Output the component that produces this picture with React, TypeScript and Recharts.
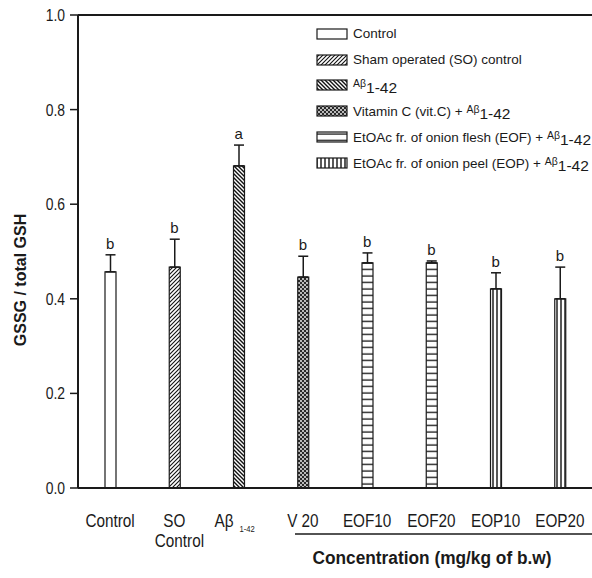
import {
  ComposedChart,
  Bar,
  Cell,
  Line,
  XAxis,
  YAxis,
  ErrorBar,
  LabelList,
  Legend,
  ReferenceLine,
} from 'recharts';

const categories = ['Control', 'SO\nControl', 'Aβ', 'V 20', 'EOF10', 'EOF20', 'EOP10', 'EOP20'];
const means = [0.457, 0.467, 0.681, 0.446, 0.476, 0.476, 0.421, 0.4];
const sems = [0.036, 0.059, 0.044, 0.044, 0.021, 0.004, 0.034, 0.067];
const letters = ['b', 'b', 'a', 'b', 'b', 'b', 'b', 'b'];
const groups = ['ctrl', 'so', 'ab', 'vc', 'eof', 'eof', 'eop', 'eop'];
const yTicks = [0, 0.2, 0.4, 0.6, 0.8, 1.0];

const legendItems = [
  { key: 'ctrl', text: 'Control', ab: false },
  { key: 'so', text: 'Sham operated (SO) control', ab: false },
  { key: 'ab', text: '', ab: true },
  { key: 'vc', text: 'Vitamin C (vit.C) + ', ab: true },
  { key: 'eof', text: 'EtOAc fr. of onion flesh (EOF) + ', ab: true },
  { key: 'eop', text: 'EtOAc fr. of onion peel (EOP) + ', ab: true },
];

const fillOf: Record<string, string> = {
  ctrl: '#ffffff',
  so: 'url(#pSO)',
  ab: 'url(#pAB)',
  vc: 'url(#pVC)',
  eof: 'url(#pEOF)',
  eop: 'url(#pEOP)',
};

const data = categories.map((name, i) => ({
  name,
  mean: means[i],
  err: [0, sems[i]],
  top: means[i] + sems[i],
  sig: letters[i],
  group: groups[i],
}));

const FONT = "'Liberation Sans', Arial, sans-serif";
const INK = '#1a1a1a';

// narrow look: squeeze text horizontally around its anchor
const narrow = (x: number, k = 0.85) => `translate(${x},0) scale(${k},1) translate(${-x},0)`;

function XTick({ x, y, payload }: any) {
  const v: string = payload.value;
  if (v === 'Aβ') {
    return (
      <text x={x - 4} y={y + 31} textAnchor="middle" fontFamily={FONT} fontSize={18} fill={INK} transform={narrow(x - 4)}>
        Aβ
        <tspan fontSize={9} dx={7} dy={5}>1-42</tspan>
      </text>
    );
  }
  const lines = v.split('\n');
  return (
    <text x={x} y={y + 31} textAnchor="middle" fontFamily={FONT} fontSize={18} fill={INK} transform={narrow(x)}>
      {lines.map((l, i) => (
        <tspan key={i} x={x + (i > 0 ? 6 : 0)} dy={i === 0 ? 0 : 20}>
          {l}
        </tspan>
      ))}
    </text>
  );
}

function YTick({ x, y, payload }: any) {
  return (
    <text x={x} y={y + 6} textAnchor="end" fontFamily={FONT} fontSize={17} fill={INK} transform={narrow(x, 0.82)}>
      {Number(payload.value).toFixed(1)}
    </text>
  );
}

function Swatch({ k }: { k: string }) {
  return (
    <svg width={32} height={12} style={{ display: 'block' }}>
      <rect x={1} y={1} width={30} height={10} fill={fillOf[k]} stroke={INK} strokeWidth={1.2} />
    </svg>
  );
}

function LegendBox() {
  return (
    <div style={{ fontFamily: FONT, fontSize: 13.5, color: INK }}>
      {legendItems.map((it) => (
        <div key={it.key} style={{ display: 'flex', alignItems: 'center', height: 25.8, whiteSpace: 'nowrap' }}>
          <Swatch k={it.key} />
          <span style={{ marginLeft: 5 }}>
            {it.text}
            {it.ab && (
              <>
                <span style={{ fontSize: 10.5, position: 'relative', top: -3 }}>Aβ</span>
                <span style={{ fontSize: 15.5, position: 'relative', top: 3 }}>1-42</span>
              </>
            )}
          </span>
        </div>
      ))}
    </div>
  );
}

export default function App() {
  return (
    <div style={{ position: 'absolute', left: 0, top: 0, width: 592, height: 578, background: '#fff' }}>
      <ComposedChart
        width={592}
        height={578}
        data={data}
        margin={{ top: 15, right: 0, bottom: 0, left: 0 }}
      >
        <defs>
          <pattern id="pSO" patternUnits="userSpaceOnUse" width={4} height={4}>
            <rect width={4} height={4} fill="#fff" />
            <path d="M-1,1 l2,-2 M0,4 l4,-4 M3,5 l2,-2" stroke="#111" strokeWidth={1.1} />
          </pattern>
          <pattern id="pAB" patternUnits="userSpaceOnUse" width={4} height={4}>
            <rect width={4} height={4} fill="#fff" />
            <path d="M-1,3 l2,2 M0,0 l4,4 M3,-1 l2,2" stroke="#111" strokeWidth={1.4} />
          </pattern>
          <pattern id="pVC" patternUnits="userSpaceOnUse" width={4} height={4}>
            <rect width={4} height={4} fill="#2a2a2a" />
            <circle cx={1} cy={1} r={0.9} fill="#fff" />
            <circle cx={3} cy={3} r={0.9} fill="#fff" />
          </pattern>
          <pattern id="pEOF" patternUnits="userSpaceOnUse" width={6} height={6.5}>
            <rect width={6} height={6.5} fill="#fff" />
            <line x1={0} y1={3} x2={6} y2={3} stroke="#111" strokeWidth={1.3} />
          </pattern>
          <pattern id="pEOP" patternUnits="userSpaceOnUse" width={4} height={4}>
            <rect width={4} height={4} fill="#fff" />
            <line x1={1} y1={0} x2={1} y2={4} stroke="#111" strokeWidth={1.4} />
          </pattern>
        </defs>
        <XAxis
          dataKey="name"
          height={90}
          tickLine={false}
          axisLine={{ stroke: INK, strokeWidth: 2 }}
          tick={<XTick />}
          interval={0}
          label={{
            content: () => (
              <g>
                <line x1={295} y1={534} x2={592} y2={534} stroke={INK} strokeWidth={1.5} />
                <text
                  x={432}
                  y={564}
                  textAnchor="middle"
                  fontFamily={FONT}
                  fontWeight="bold"
                  fontSize={18}
                  textLength={239}
                  lengthAdjust="spacingAndGlyphs"
                  fill={INK}
                >
                  Concentration (mg/kg of b.w)
                </text>
              </g>
            ),
          }}
        />
        <YAxis
          width={78}
          domain={[0, 1]}
          ticks={yTicks}
          tickSize={8}
          tickMargin={5}
          axisLine={{ stroke: INK, strokeWidth: 2 }}
          tickLine={{ stroke: INK, strokeWidth: 1.5 }}
          tick={<YTick />}
          label={{
            content: () => (
              <text
                x={26}
                y={280}
                transform="rotate(-90, 26, 280)"
                textAnchor="middle"
                fontFamily={FONT}
                fontWeight="bold"
                fontSize={16}
                fill={INK}
              >
                GSSG / total GSH
              </text>
            ),
          }}
        />
        <ReferenceLine y={1} stroke={INK} strokeWidth={2} />
        <Legend
          layout="vertical"
          align="center"
          verticalAlign="middle"
          content={() => <LegendBox />}
          wrapperStyle={{ position: 'absolute', left: 316, top: 21, width: 276, height: 160 }}
        />
        <Bar dataKey="mean" barSize={11} stroke={INK} strokeWidth={1.2} isAnimationActive={false}>
          {data.map((d, i) => (
            <Cell key={i} fill={fillOf[d.group]} />
          ))}
          <ErrorBar dataKey="err" width={5} stroke={INK} strokeWidth={1.5} direction="y" />
        </Bar>
        <Line dataKey="top" stroke="none" dot={false} activeDot={false} isAnimationActive={false}>
          <LabelList dataKey="sig" position="top" offset={6} fontFamily={FONT} fontSize={15} fill={INK} />
        </Line>
      </ComposedChart>
    </div>
  );
}
